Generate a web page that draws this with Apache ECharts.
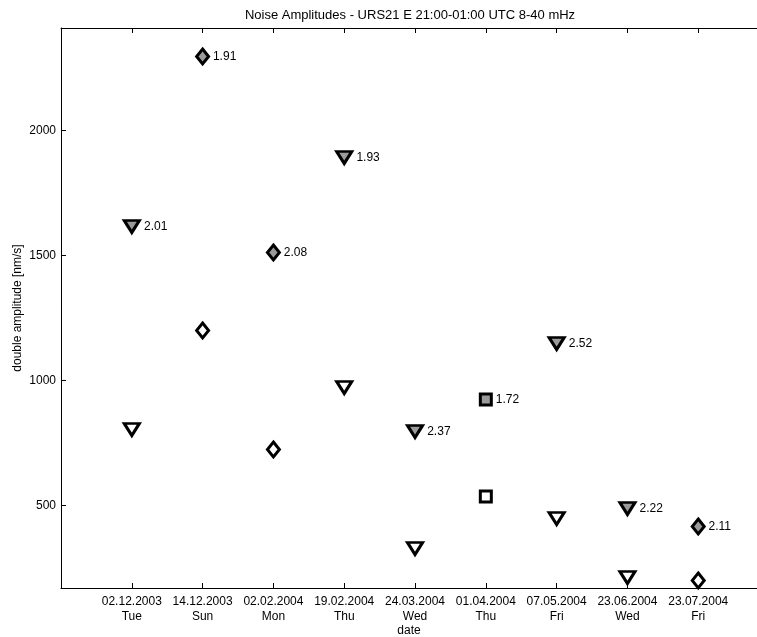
<!DOCTYPE html>
<html>
<head>
<meta charset="utf-8">
<script src="https://cdn.jsdelivr.net/npm/echarts@6/dist/echarts.min.js"></script>
<style>
  html, body { margin: 0; padding: 0; background: #fff; }
  #chart { width: 757px; height: 637px; }
</style>
</head>
<body>
<div id="chart"></div>
<script>
// categories (dates + weekday)
var dates = ['02.12.2003', '14.12.2003', '02.02.2004', '19.02.2004', '24.03.2004',
             '01.04.2004', '07.05.2004', '23.06.2004', '23.07.2004'];
var days = ['Tue', 'Sun', 'Mon', 'Thu', 'Wed', 'Thu', 'Fri', 'Wed', 'Fri'];
// marker shape per date
var shapes = ['tri', 'dia', 'dia', 'tri', 'tri', 'sq', 'tri', 'tri', 'dia'];
// upper values (grey filled, labelled) and their labels
var upperVals = [1616, 2296, 1512, 1892, 796, 924, 1148, 488, 416];
var upperLabels = ['2.01', '1.91', '2.08', '1.93', '2.37', '1.72', '2.52', '2.22', '2.11'];
// lower values (white filled)
var lowerVals = [804, 1200, 724, 972, 328, 536, 448, 212, 200];
var yTicks = [500, 1000, 1500, 2000];

var symbolOf = {
  tri: { symbol: 'triangle', size: [15, 12], rotate: 180 },
  dia: { symbol: 'diamond', size: [12, 15], rotate: 0 },
  sq:  { symbol: 'rect', size: [11, 11], rotate: 0 }
};

function buildData(vals, labels) {
  return vals.map(function (v, i) {
    var s = symbolOf[shapes[i]];
    var item = {
      value: [i + 1, v],
      symbol: s.symbol,
      symbolSize: s.size,
      symbolRotate: s.rotate
    };
    if (labels) item.label = { formatter: labels[i] };
    return item;
  });
}

var font = 'Liberation Sans, Arial, sans-serif';
var chart = echarts.init(document.getElementById('chart'));
var xMax = 9.83;

chart.setOption({
  animation: false,
  backgroundColor: '#fff',
  title: {
    text: 'Noise Amplitudes - URS21 E 21:00-01:00 UTC 8-40 mHz',
    left: 405, top: 4, textAlign: 'center',
    textStyle: { fontFamily: font, fontSize: 13, fontWeight: 'normal', color: '#000' }
  },
  grid: { left: 61, right: 0, top: 28, bottom: 49, outerBoundsMode: 'none', containLabel: false },
  xAxis: [{
    type: 'value', min: 0, max: xMax, interval: 1,
    name: 'date', nameLocation: 'middle', nameGap: 37, nameMoveOverlap: false,
    nameTextStyle: { fontFamily: font, fontSize: 12, color: '#000' },
    axisLine: { lineStyle: { color: '#000', width: 1 } },
    axisTick: { show: true, inside: true, length: 5, lineStyle: { color: '#000' } },
    axisLabel: {
      fontFamily: font, fontSize: 12, color: '#000', lineHeight: 15, margin: 6,
      showMinLabel: false, showMaxLabel: false,
      formatter: function (v) { return dates[v - 1] ? dates[v - 1] + '\n' + days[v - 1] : ''; }
    },
    splitLine: { show: false }
  }, {
    type: 'value', min: 0, max: xMax, interval: 1, position: 'top',
    axisLine: { show: true, lineStyle: { color: '#000', width: 1 } },
    axisTick: { show: true, inside: true, length: 5, lineStyle: { color: '#000' } },
    axisLabel: { show: false },
    splitLine: { show: false }
  }],
  yAxis: [{
    type: 'value', min: 170, max: 2410,
    name: 'double amplitude [nm/s]', nameLocation: 'middle', nameGap: 37, nameMoveOverlap: false,
    nameTextStyle: { fontFamily: font, fontSize: 12, color: '#000' },
    axisLine: { show: true, lineStyle: { color: '#000', width: 1 } },
    axisTick: { show: true, inside: true, length: 5, customValues: yTicks, lineStyle: { color: '#000' } },
    axisLabel: {
      customValues: yTicks, fontFamily: font, fontSize: 12, color: '#000', margin: 5,
      formatter: function (v) { return String(v); }
    },
    splitLine: { show: false }
  }],
  series: [{
    type: 'scatter',
    data: buildData(upperVals, upperLabels),
    itemStyle: { color: '#9a9a9a', borderColor: '#000', borderWidth: 3, opacity: 1 },
    label: {
      show: true, position: 'right', distance: 3,
      fontFamily: font, fontSize: 12, color: '#000'
    }
  }, {
    type: 'scatter',
    data: buildData(lowerVals, null),
    itemStyle: { color: '#fff', borderColor: '#000', borderWidth: 3, opacity: 1 }
  }]
});
</script>
</body>
</html>
